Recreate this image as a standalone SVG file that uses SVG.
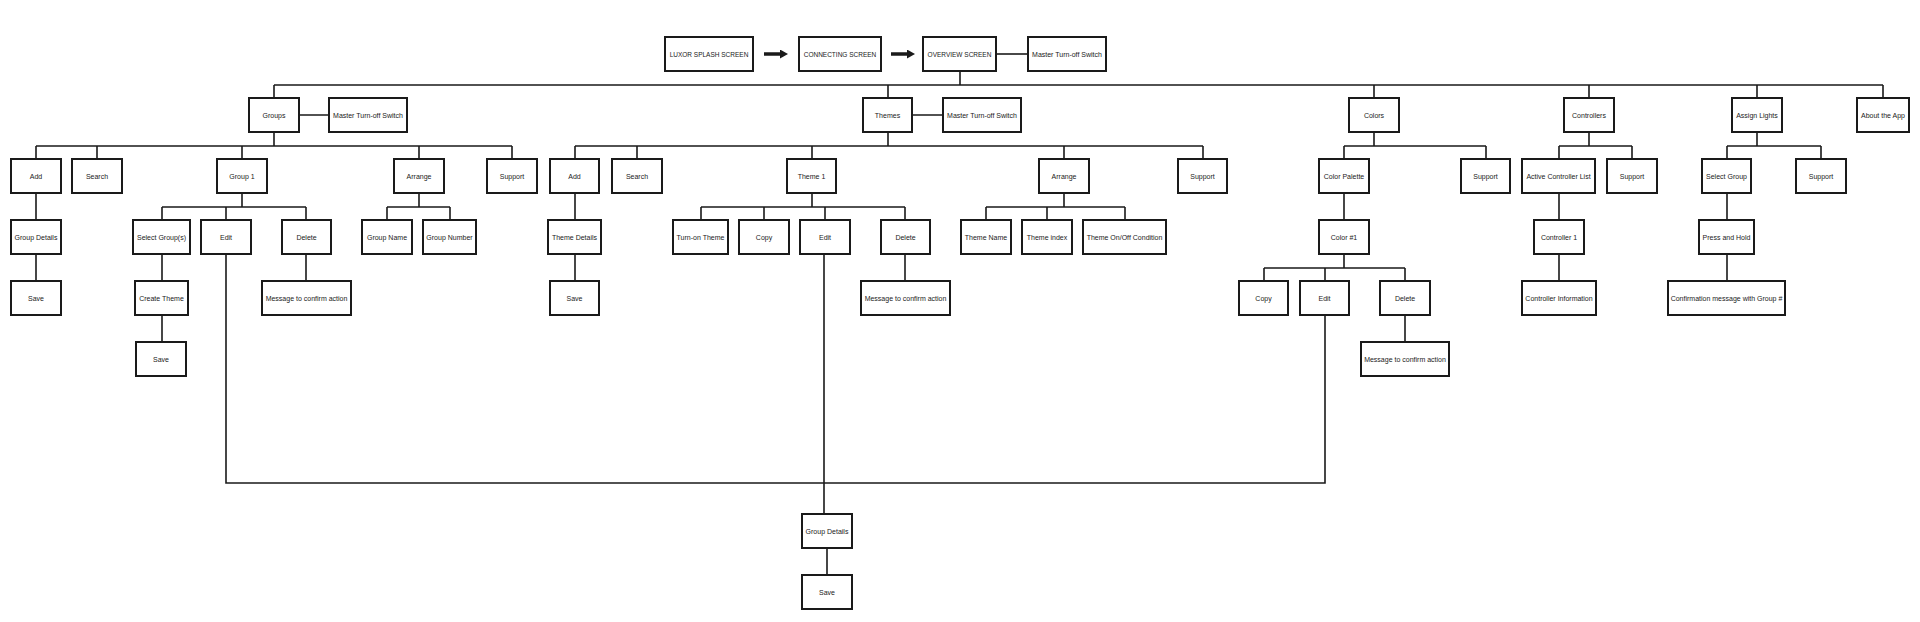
<svg xmlns="http://www.w3.org/2000/svg" width="1920" height="622" viewBox="0 0 1920 622">
<style>
.n rect{fill:#fff;stroke:#1a1a1a;stroke-width:2}
.n text{font-family:"Liberation Sans",Arial,sans-serif;font-size:7px;fill:#1a1a1a;text-anchor:middle;dominant-baseline:central}
.n text.u{font-size:6.5px}
.c path{fill:none;stroke:#1a1a1a;stroke-width:1.6}
.c path.arrow{stroke-width:3.5}
</style>
<defs>
<marker id="ah" viewBox="0 0 8 9" refX="2" refY="4.5" markerWidth="8" markerHeight="9" orient="auto" markerUnits="userSpaceOnUse">
<path d="M0,0 L8,4.5 L0,9 Z" fill="#1a1a1a"/>
</marker>
</defs>
<rect width="1920" height="622" fill="#fff"/>
<g class="c" id="connectors">
<path class="arrow" d="M764,54 H782" marker-end="url(#ah)"/>
<path class="arrow" d="M891,54 H909" marker-end="url(#ah)"/>
<path d="M996,54 H1028"/>
<path d="M960,71 V85 M274,85 H1883 M274,85 V98 M888,85 V98 M1374,85 V98 M1589,85 V98 M1757,85 V98 M1883,85 V98"/>
<path d="M299,115 H329 M912,115 H943"/>
<path d="M274,132 V146 M36,146 H512 M36,146 V159 M97,146 V159 M242,146 V159 M419,146 V159 M512,146 V159"/>
<path d="M888,132 V146 M575,146 H1203 M575,146 V159 M637,146 V159 M812,146 V159 M1064,146 V159 M1203,146 V159"/>
<path d="M1374,132 V146 M1344,146 H1486 M1344,146 V159 M1486,146 V159"/>
<path d="M1589,132 V146 M1559,146 H1632 M1559,146 V159 M1632,146 V159"/>
<path d="M1757,132 V146 M1727,146 H1821 M1727,146 V159 M1821,146 V159"/>
<path d="M36,193 V220 M36,254 V281"/>
<path d="M242,193 V207 M162,207 H306 M162,207 V220 M226,207 V220 M306,207 V220"/>
<path d="M419,193 V207 M387,207 H450 M387,207 V220 M450,207 V220"/>
<path d="M162,254 V281 M162,315 V342 M306,254 V281"/>
<path d="M575,193 V220 M575,254 V281"/>
<path d="M812,193 V207 M701,207 H905 M701,207 V220 M764,207 V220 M825,207 V220 M905,207 V220"/>
<path d="M905,254 V281"/>
<path d="M1064,193 V207 M986,207 H1125 M986,207 V220 M1047,207 V220 M1125,207 V220"/>
<path d="M1344,193 V220 M1344,254 V268 M1264,268 H1405 M1264,268 V281 M1325,268 V281 M1405,268 V281 M1405,315 V342"/>
<path d="M1559,193 V220 M1559,254 V281"/>
<path d="M1727,193 V220 M1727,254 V281"/>
<path d="M226,254 V483 H1325 V315 M824,254 V514 M827,548 V575"/>
</g>
<g class="n" id="luxor"><rect x="665" y="37" width="88" height="34"/><text class="u" x="709" y="54">LUXOR SPLASH SCREEN</text></g>
<g class="n" id="connecting"><rect x="799" y="37" width="82" height="34"/><text class="u" x="840" y="54">CONNECTING SCREEN</text></g>
<g class="n" id="overview"><rect x="923" y="37" width="73" height="34"/><text class="u" x="959.5" y="54">OVERVIEW SCREEN</text></g>
<g class="n" id="overview-master"><rect x="1028" y="37" width="78" height="34"/><text x="1067" y="54">Master Turn-off Switch</text></g>

<g class="n" id="groups"><rect x="249" y="98" width="50" height="34"/><text x="274" y="115">Groups</text></g>
<g class="n" id="groups-master"><rect x="329" y="98" width="78" height="34"/><text x="368" y="115">Master Turn-off Switch</text></g>
<g class="n" id="themes"><rect x="863" y="98" width="49" height="34"/><text x="887.5" y="115">Themes</text></g>
<g class="n" id="themes-master"><rect x="943" y="98" width="78" height="34"/><text x="982" y="115">Master Turn-off Switch</text></g>
<g class="n" id="colors"><rect x="1349" y="98" width="50" height="34"/><text x="1374" y="115">Colors</text></g>
<g class="n" id="controllers"><rect x="1564" y="98" width="50" height="34"/><text x="1589" y="115">Controllers</text></g>
<g class="n" id="assign-lights"><rect x="1732" y="98" width="50" height="34"/><text x="1757" y="115">Assign Lights</text></g>
<g class="n" id="about"><rect x="1857" y="98" width="52" height="34"/><text x="1883" y="115">About the App</text></g>

<g class="n" id="g-add"><rect x="11" y="159" width="50" height="34"/><text x="36" y="176">Add</text></g>
<g class="n" id="g-search"><rect x="72" y="159" width="50" height="34"/><text x="97" y="176">Search</text></g>
<g class="n" id="group1"><rect x="217" y="159" width="50" height="34"/><text x="242" y="176">Group 1</text></g>
<g class="n" id="g-arrange"><rect x="394" y="159" width="50" height="34"/><text x="419" y="176">Arrange</text></g>
<g class="n" id="g-support"><rect x="487" y="159" width="50" height="34"/><text x="512" y="176">Support</text></g>
<g class="n" id="t-add"><rect x="550" y="159" width="49" height="34"/><text x="574.5" y="176">Add</text></g>
<g class="n" id="t-search"><rect x="612" y="159" width="50" height="34"/><text x="637" y="176">Search</text></g>
<g class="n" id="theme1"><rect x="787" y="159" width="49" height="34"/><text x="811.5" y="176">Theme 1</text></g>
<g class="n" id="t-arrange"><rect x="1039" y="159" width="50" height="34"/><text x="1064" y="176">Arrange</text></g>
<g class="n" id="t-support"><rect x="1178" y="159" width="49" height="34"/><text x="1202.5" y="176">Support</text></g>
<g class="n" id="color-palette"><rect x="1319" y="159" width="50" height="34"/><text x="1344" y="176">Color Palette</text></g>
<g class="n" id="c-support"><rect x="1461" y="159" width="49" height="34"/><text x="1485.5" y="176">Support</text></g>
<g class="n" id="active-controllers"><rect x="1522" y="159" width="73" height="34"/><text x="1558.5" y="176">Active Controller List</text></g>
<g class="n" id="ctl-support"><rect x="1607" y="159" width="50" height="34"/><text x="1632" y="176">Support</text></g>
<g class="n" id="select-group"><rect x="1702" y="159" width="49" height="34"/><text x="1726.5" y="176">Select Group</text></g>
<g class="n" id="a-support"><rect x="1796" y="159" width="50" height="34"/><text x="1821" y="176">Support</text></g>

<g class="n" id="g-group-details"><rect x="11" y="220" width="50" height="34"/><text x="36" y="237">Group Details</text></g>
<g class="n" id="select-groups"><rect x="133" y="220" width="57" height="34"/><text x="161.5" y="237">Select Group(s)</text></g>
<g class="n" id="g-edit"><rect x="201" y="220" width="50" height="34"/><text x="226" y="237">Edit</text></g>
<g class="n" id="g-delete"><rect x="282" y="220" width="49" height="34"/><text x="306.5" y="237">Delete</text></g>
<g class="n" id="group-name"><rect x="362" y="220" width="50" height="34"/><text x="387" y="237">Group Name</text></g>
<g class="n" id="group-number"><rect x="423" y="220" width="53" height="34"/><text x="449.5" y="237">Group Number</text></g>
<g class="n" id="theme-details"><rect x="548" y="220" width="53" height="34"/><text x="574.5" y="237">Theme Details</text></g>
<g class="n" id="turn-on-theme"><rect x="673" y="220" width="55" height="34"/><text x="700.5" y="237">Turn-on Theme</text></g>
<g class="n" id="t-copy"><rect x="739" y="220" width="50" height="34"/><text x="764" y="237">Copy</text></g>
<g class="n" id="t-edit"><rect x="800" y="220" width="50" height="34"/><text x="825" y="237">Edit</text></g>
<g class="n" id="t-delete"><rect x="881" y="220" width="49" height="34"/><text x="905.5" y="237">Delete</text></g>
<g class="n" id="theme-name"><rect x="961" y="220" width="50" height="34"/><text x="986" y="237">Theme Name</text></g>
<g class="n" id="theme-index"><rect x="1022" y="220" width="50" height="34"/><text x="1047" y="237">Theme index</text></g>
<g class="n" id="theme-onoff"><rect x="1083" y="220" width="83" height="34"/><text x="1124.5" y="237">Theme On/Off Condition</text></g>
<g class="n" id="color1"><rect x="1319" y="220" width="50" height="34"/><text x="1344" y="237">Color #1</text></g>
<g class="n" id="controller1"><rect x="1534" y="220" width="50" height="34"/><text x="1559" y="237">Controller 1</text></g>
<g class="n" id="press-hold"><rect x="1699" y="220" width="55" height="34"/><text x="1726.5" y="237">Press and Hold</text></g>

<g class="n" id="g-save"><rect x="11" y="281" width="50" height="34"/><text x="36" y="298">Save</text></g>
<g class="n" id="create-theme"><rect x="135" y="281" width="53" height="34"/><text x="161.5" y="298">Create Theme</text></g>
<g class="n" id="g-message"><rect x="262" y="281" width="89" height="34"/><text x="306.5" y="298">Message to confirm action</text></g>
<g class="n" id="t-save"><rect x="550" y="281" width="49" height="34"/><text x="574.5" y="298">Save</text></g>
<g class="n" id="t-message"><rect x="861" y="281" width="89" height="34"/><text x="905.5" y="298">Message to confirm action</text></g>
<g class="n" id="c-copy"><rect x="1239" y="281" width="49" height="34"/><text x="1263.5" y="298">Copy</text></g>
<g class="n" id="c-edit"><rect x="1300" y="281" width="49" height="34"/><text x="1324.5" y="298">Edit</text></g>
<g class="n" id="c-delete"><rect x="1380" y="281" width="50" height="34"/><text x="1405" y="298">Delete</text></g>
<g class="n" id="controller-info"><rect x="1522" y="281" width="74" height="34"/><text x="1559" y="298">Controller Information</text></g>
<g class="n" id="confirmation"><rect x="1668" y="281" width="117" height="34"/><text x="1726.5" y="298">Confirmation message with Group #</text></g>

<g class="n" id="ct-save"><rect x="136" y="342" width="50" height="34"/><text x="161" y="359">Save</text></g>
<g class="n" id="c-message"><rect x="1361" y="342" width="88" height="34"/><text x="1405" y="359">Message to confirm action</text></g>

<g class="n" id="shared-group-details"><rect x="802" y="514" width="50" height="34"/><text x="827" y="531">Group Details</text></g>
<g class="n" id="shared-save"><rect x="802" y="575" width="50" height="34"/><text x="827" y="592">Save</text></g>
</svg>
